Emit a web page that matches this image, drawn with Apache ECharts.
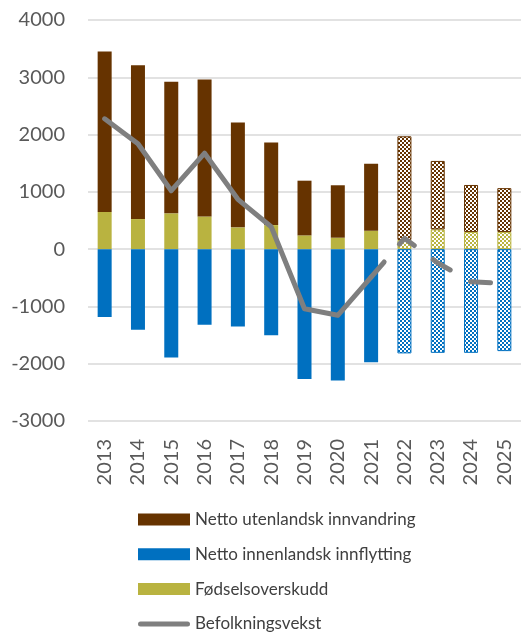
<!DOCTYPE html>
<html>
<head>
<meta charset="utf-8">
<script src="https://cdn.jsdelivr.net/npm/echarts@6/dist/echarts.min.js"></script>
<style>
  html, body { margin: 0; padding: 0; background: #fff; }
  #chart { width: 521px; height: 632px; }
</style>
</head>
<body>
<div id="chart"></div>
<script>
// Population change by component, 2013–2025 (2022 onward are projections)
const years = ['2013', '2014', '2015', '2016', '2017', '2018', '2019', '2020', '2021', '2022', '2023', '2024', '2025'];
const fodselsoverskudd = [650, 525, 625, 570, 380, 420, 240, 200, 320, 160, 345, 300, 300];
const utenlandsk = [2800, 2685, 2295, 2390, 1830, 1440, 955, 915, 1170, 1810, 1195, 820, 765];
const innenlandsk = [-1185, -1405, -1890, -1320, -1350, -1505, -2265, -2295, -1974, -1820, -1810, -1810, -1780];
const befolkningsvekst = [2275, 1840, 1020, 1675, 870, 390, -1040, -1155, -490, 190, -240, -570, -600];
const yTicks = [-3000, -2000, -1000, 0, 1000, 2000, 3000, 4000];
const firstProjection = 9; // index of 2022

const BROWN = '#663300', BLUE = '#0070c0', OLIVE = '#b9b340', GREY = '#7f7f7f';

// Checkerboard fill used for projected years
function checker(color) {
  const c = document.createElement('canvas');
  c.width = 4; c.height = 4;
  const g = c.getContext('2d');
  g.fillStyle = '#ffffff';
  g.fillRect(0, 0, 4, 4);
  g.fillStyle = color;
  g.fillRect(0, 0, 2, 2);
  g.fillRect(2, 2, 2, 2);
  return { image: c, repeat: 'repeat' };
}

function barData(values, color) {
  return values.map((v, i) => i >= firstProjection
    ? { value: v, itemStyle: { color: checker(color), borderColor: color, borderWidth: 1 } }
    : { value: v, itemStyle: { color: color } });
}

const solidLine = befolkningsvekst.map((v, i) => i < firstProjection ? v : null);
const dashedLine = befolkningsvekst.map((v, i) => i >= firstProjection - 1 ? v : null);

const chart = echarts.init(document.getElementById('chart'), null, { renderer: 'canvas' });
const FONT = 'Lato, "Open Sans", sans-serif';

chart.setOption({
  animation: false,
  backgroundColor: '#ffffff',
  grid: { left: 88, right: -2, top: 20, bottom: 211, containLabel: false },
  legend: {
    orient: 'vertical',
    left: 133,
    top: 506,
    height: 126,
    itemWidth: 52,
    itemHeight: 12,
    itemGap: 17.8,
    symbolKeepAspect: true,
    textStyle: { fontFamily: FONT, fontSize: 17, lineHeight: 16, color: '#404040' },
    data: [
      { name: 'Netto utenlandsk innvandring', icon: 'rect' },
      { name: 'Netto innenlandsk innflytting', icon: 'rect' },
      { name: 'Fødselsoverskudd', icon: 'rect' },
      { name: 'Befolkningsvekst', icon: 'path://M2.5,0 L49.5,0 A2.5,2.5 0 0 1 49.5,5 L2.5,5 A2.5,2.5 0 0 1 2.5,0 Z' }
    ]
  },
  xAxis: {
    type: 'category',
    data: years,
    axisLine: { show: false, onZero: false },
    axisTick: { show: false },
    axisLabel: { rotate: 90, margin: 18, fontFamily: FONT, fontSize: 20, color: '#595959' }
  },
  yAxis: {
    type: 'value',
    min: yTicks[0],
    max: yTicks[yTicks.length - 1],
    interval: 1000,
    axisLine: { show: false },
    axisTick: { show: false },
    axisLabel: { margin: 23, fontFamily: FONT, fontSize: 20, color: '#595959', formatter: v => String(v) },
    splitLine: { lineStyle: { color: '#d9d9d9', width: 1.5 } }
  },
  series: [
    {
      name: 'Fødselsoverskudd', type: 'bar', stack: 'total', barWidth: 14,
      itemStyle: { color: OLIVE },
      data: barData(fodselsoverskudd, OLIVE)
    },
    {
      name: 'Netto utenlandsk innvandring', type: 'bar', stack: 'total', barWidth: 14,
      itemStyle: { color: BROWN },
      data: barData(utenlandsk, BROWN)
    },
    {
      name: 'Netto innenlandsk innflytting', type: 'bar', stack: 'total', barWidth: 14,
      itemStyle: { color: BLUE },
      data: barData(innenlandsk, BLUE)
    },
    {
      name: 'Befolkningsvekst', type: 'line', symbol: 'none', z: 5,
      itemStyle: { color: GREY },
      lineStyle: { color: GREY, width: 5, cap: 'round', join: 'round' },
      data: solidLine
    },
    {
      name: 'Befolkningsvekst', type: 'line', symbol: 'none', z: 5,
      itemStyle: { color: GREY },
      lineStyle: { color: GREY, width: 5, cap: 'round', join: 'round', type: [20, 23.5], dashOffset: 0 },
      data: dashedLine
    }
  ]
});
</script>
</body>
</html>
